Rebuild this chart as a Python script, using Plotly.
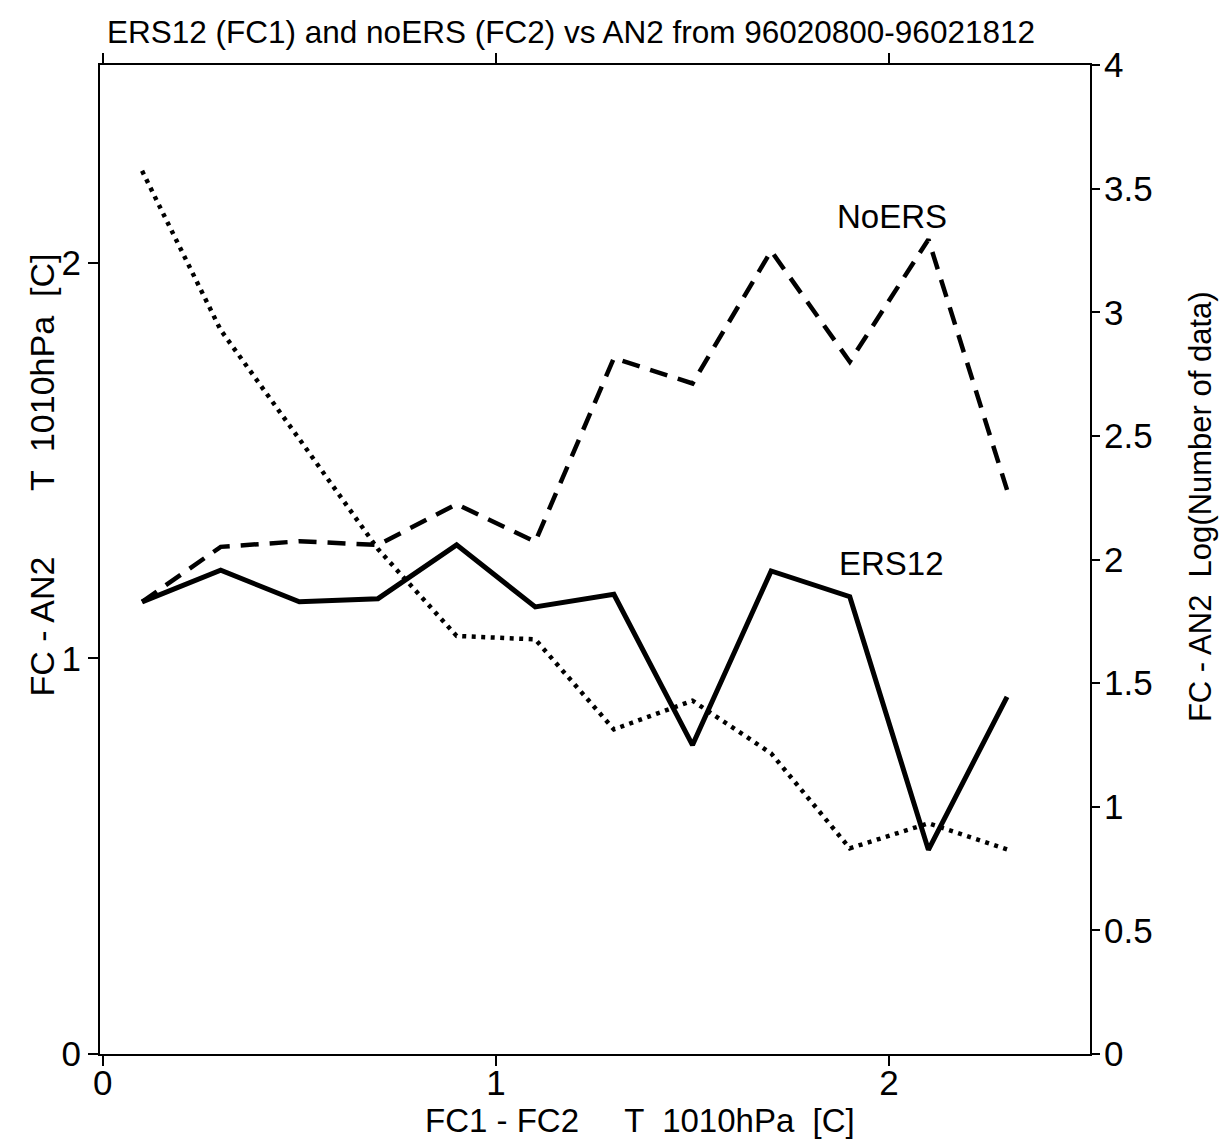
import plotly.graph_objects as go

# x categories: FC1 - FC2 T 1010hPa [C]
x_vals = [0.1, 0.3, 0.5, 0.7, 0.9, 1.1, 1.3, 1.5, 1.7, 1.9, 2.1, 2.3]
# FC - AN2 (left axis)
ers12 = [1.143, 1.223, 1.143, 1.151, 1.287, 1.130, 1.162, 0.781, 1.221, 1.156, 0.516, 0.903]
noers = [1.143, 1.282, 1.296, 1.287, 1.390, 1.295, 1.759, 1.695, 2.030, 1.750, 2.059, 1.426]
# Log(Number of data) (right axis)
lognum = [3.572, 2.928, 2.487, 2.042, 1.691, 1.677, 1.313, 1.429, 1.216, 0.832, 0.933, 0.828]

left_ticks = [0, 1, 2]
right_ticks = [0, 0.5, 1, 1.5, 2, 2.5, 3, 3.5, 4]
right_tick_text = ["0", "0.5", "1", "1.5", "2", "2.5", "3", "3.5", "4"]
x_ticks = [0, 1, 2]

FONT = "Liberation Sans, Arial, Helvetica, sans-serif"

fig = go.Figure()
fig.add_trace(go.Scatter(x=x_vals, y=ers12, mode="lines", name="ERS12",
                         line=dict(color="black", width=5), yaxis="y"))
fig.add_trace(go.Scatter(x=x_vals, y=noers, mode="lines", name="NoERS",
                         line=dict(color="black", width=4.5, dash="18px,11px"), yaxis="y"))
fig.add_trace(go.Scatter(x=x_vals, y=lognum, mode="lines", name="Log(Number of data)",
                         line=dict(color="black", width=4.5, dash="4px,5.5px"), yaxis="y2"))

fig.update_layout(
    width=1221, height=1139,
    margin=dict(l=100, r=131, t=65, b=85),
    paper_bgcolor="white", plot_bgcolor="white",
    showlegend=False,
    font=dict(family=FONT, size=35, color="black"),
    xaxis=dict(range=[-0.007, 2.511], tickvals=x_ticks, ticktext=[str(v) for v in x_ticks],
               showline=True, linecolor="black", linewidth=2, mirror="ticks",
               ticks="outside", ticklen=10, tickwidth=1.5, tickcolor="black",
               ticklabelstandoff=-13,
               showgrid=False, zeroline=False, tickfont=dict(size=35)),
    yaxis=dict(range=[0, 2.5], tickvals=left_ticks, ticktext=[str(v) for v in left_ticks],
               showline=True, linecolor="black", linewidth=2,
               ticks="outside", ticklen=10, tickwidth=1.5, tickcolor="black",
               ticklabelstandoff=0,
               showgrid=False, zeroline=False, tickfont=dict(size=35)),
    yaxis2=dict(range=[0, 4], overlaying="y", side="right", tickvals=right_ticks,
                ticktext=right_tick_text,
                showline=True, linecolor="black", linewidth=2,
                ticks="outside", ticklen=8, tickwidth=1.5, tickcolor="black",
                ticklabelstandoff=-3,
                showgrid=False, zeroline=False, tickfont=dict(size=35)),
    annotations=[
        dict(text="ERS12 (FC1) and noERS (FC2) vs AN2 from 96020800-96021812",
             xref="paper", yref="paper", x=0.476, y=1.0, yshift=33,
             showarrow=False, font=dict(size=31.5), xanchor="center", yanchor="middle"),
        dict(text="FC1 - FC2     T  1010hPa  [C]", xref="paper", yref="paper",
             x=0.545, y=0, yshift=-66, showarrow=False, font=dict(size=33),
             xanchor="center", yanchor="middle"),
        dict(text="FC - AN2       T  1010hPa  [C]", xref="paper", yref="paper",
             x=0, xshift=-58, y=0.585, textangle=-90, showarrow=False,
             font=dict(size=34), xanchor="center", yanchor="middle"),
        dict(text="FC - AN2  Log(Number of data)", xref="paper", yref="paper",
             x=1, xshift=110, y=0.553, textangle=-90, showarrow=False,
             font=dict(size=31), xanchor="center", yanchor="middle"),
        dict(text="NoERS", x=1.9, y=2.1, xref="x", yref="y", showarrow=False,
             xshift=42, yshift=7, font=dict(size=33), xanchor="center", yanchor="middle"),
        dict(text="ERS12", x=1.9, y=1.25, xref="x", yref="y", showarrow=False,
             xshift=42, yshift=-4, font=dict(size=33), xanchor="center", yanchor="middle"),
    ],
)

fig.write_html("out.html")
